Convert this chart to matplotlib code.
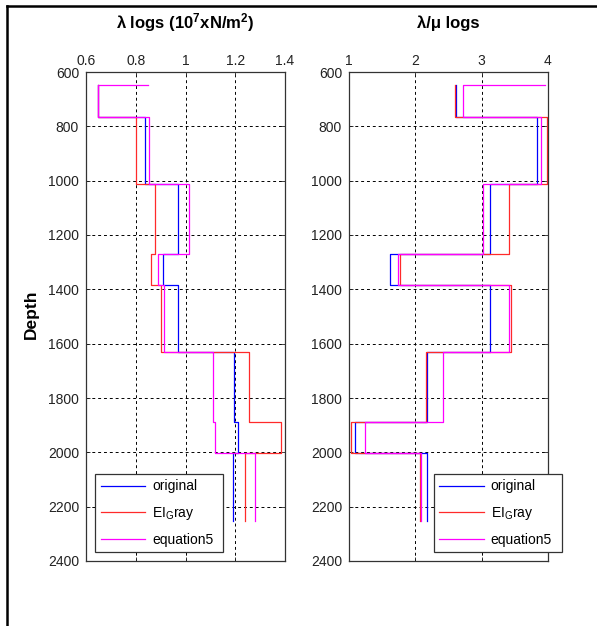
import numpy as np
import matplotlib
matplotlib.use("Agg")
import matplotlib.pyplot as plt
from matplotlib.lines import Line2D

plt.rcParams['font.family'] = ['Liberation Sans', 'DejaVu Sans']
plt.rcParams['mathtext.default'] = 'regular'

# layer boundaries (depth)
depth_bounds = [648, 765, 1013, 1269, 1385, 1632, 1887, 2003, 2254]

# lambda logs, one value per layer
lam_original = [0.65, 0.836, 0.971, 0.911, 0.971, 1.194, 1.212, 1.191]
lam_eigray = [0.65, 0.801, 0.877, 0.863, 0.900, 1.257, 1.382, 1.238]
lam_eq5 = [0.65, 0.852, 1.015, 0.889, 0.912, 1.111, 1.119, 1.278]
lam_eq5_start = 0.848

# lambda/mu logs
ratio_original = [2.61, 3.834, 3.126, 1.613, 3.126, 2.176, 1.09, 2.176]
ratio_eigray = [2.598, 3.985, 3.412, 1.764, 3.44, 2.161, 1.025, 2.065]
ratio_eq5 = [2.714, 3.90, 3.02, 1.734, 3.417, 2.412, 1.24, 2.085]
ratio_eq5_start = 3.955

labels = ['original', 'EI$_G$ray', 'equation5']
colors = ['#0000ff', '#ff2a2a', '#ff00ff']

lam_ticks = [0.6, 0.8, 1, 1.2, 1.4]
lam_ticklabels = ['0.6', '0.8', '1', '1.2', '1.4']
ratio_ticks = [1, 2, 3, 4]
depth_ticks = np.arange(600, 2401, 200)


def stairs(values, start=None):
    # vertical segment per layer, horizontal jump at each boundary
    xs, ys = [], []
    if start is not None:
        xs.append(start)
        ys.append(depth_bounds[0])
    for i, v in enumerate(values):
        xs += [v, v]
        ys += [depth_bounds[i], depth_bounds[i + 1]]
    return xs, ys


fig = plt.figure(figsize=(5.97, 6.26), dpi=100)
ax1 = fig.add_axes([86 / 597, 65 / 626, 199 / 597, 489 / 626])
ax2 = fig.add_axes([349 / 597, 65 / 626, 199 / 597, 489 / 626])

panels = [
    (ax1, [lam_original, lam_eigray, lam_eq5], lam_eq5_start, (0.6, 1.4), lam_ticks, lam_ticklabels, 0.045),
    (ax2, [ratio_original, ratio_eigray, ratio_eq5], ratio_eq5_start, (1, 4), ratio_ticks, None, 0.426),
]

for ax, series, eq5_start, xlim, xt, xtl, leg_x in panels:
    for k, vals in enumerate(series):
        st = eq5_start if k == 2 else None
        xs, ys = stairs(vals, st)
        ax.plot(xs, ys, color=colors[k], lw=0.9, label=labels[k])
    ax.set_xlim(*xlim)
    ax.set_ylim(2400, 600)
    ax.set_xticks(xt)
    if xtl is not None:
        ax.set_xticklabels(xtl)
    ax.set_yticks(depth_ticks)
    ax.xaxis.tick_top()
    ax.tick_params(axis='both', direction='in', length=3, width=0.6,
                   labelsize=10, colors='#222222', top=True, bottom=True,
                   left=True, right=True)
    ax.tick_params(axis='x', pad=3)
    ax.tick_params(axis='y', pad=5)
    ax.grid(True, color='black', linestyle=(0, (3, 3)), linewidth=0.7)
    ax.set_axisbelow(True)
    for sp in ax.spines.values():
        sp.set_color('#333333')
        sp.set_linewidth(0.9)
    leg = ax.legend(loc='lower left', bbox_to_anchor=(leg_x, 0.018, 0.643, 0.166),
                    mode='expand', fontsize=10, frameon=True, fancybox=False,
                    framealpha=1, edgecolor='#333333', handlelength=3.2,
                    handletextpad=0.5, labelspacing=0.8, borderaxespad=0)
    leg.get_frame().set_linewidth(0.9)

fig.text((86 + 285) / 2 / 597, 1 - 23 / 626, 'λ logs (10$^7$xN/m$^2$)',
         ha='center', va='center', fontsize=12, fontweight='bold')
fig.text((349 + 548) / 2 / 597, 1 - 23 / 626, 'λ/μ logs',
         ha='center', va='center', fontsize=12, fontweight='bold')
fig.text(31 / 597, 1 - 314 / 626, 'Depth', rotation=90,
         ha='center', va='center', fontsize=12.5, fontweight='bold')

# outer frame lines (left and top)
fig.add_artist(Line2D([6.5 / 597, 6.5 / 597], [0, 1 - 5.5 / 626], color='black', lw=1.8))
fig.add_artist(Line2D([6.5 / 597, 1], [1 - 5.5 / 626, 1 - 5.5 / 626], color='black', lw=1.8))

fig.savefig('out.png', dpi=100)
